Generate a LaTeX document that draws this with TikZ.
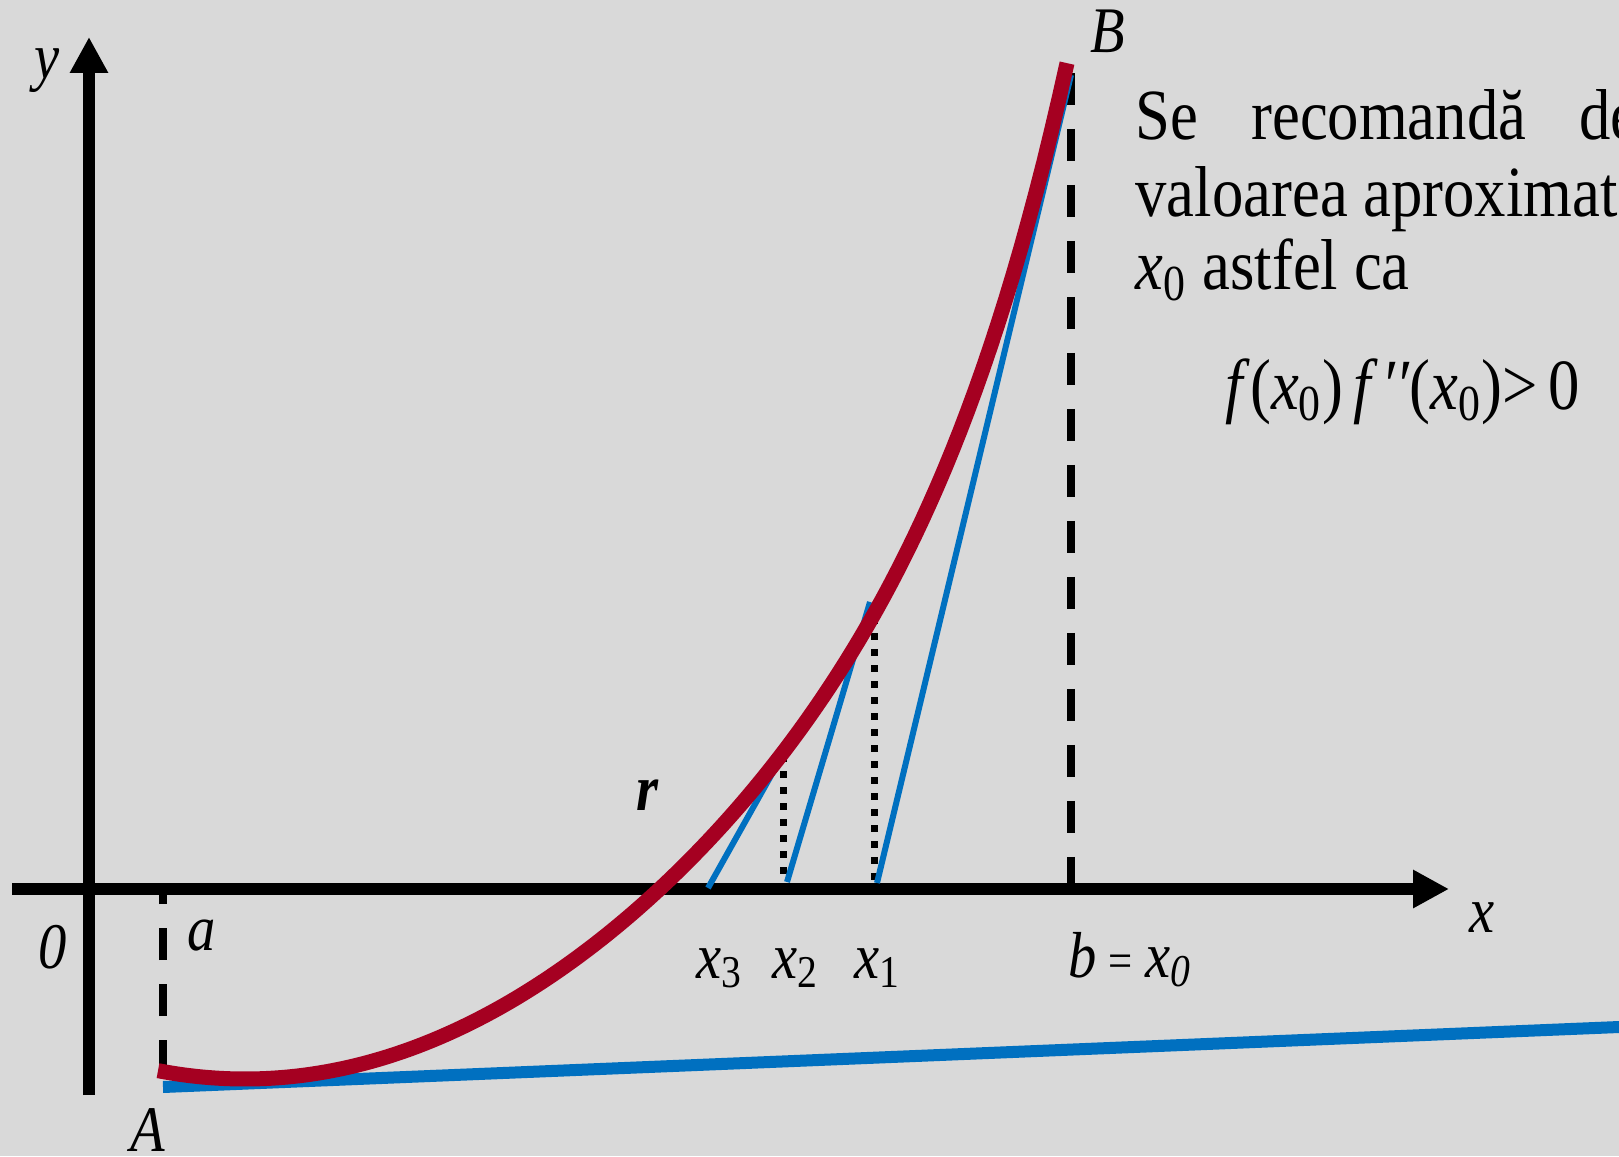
\documentclass[tikz,border=0pt]{standalone}
\usepackage{fontspec}
\setmainfont{Liberation Serif}
\usetikzlibrary{arrows.meta}
\usepackage{xcolor}
\definecolor{backdrop}{HTML}{D9D9D9}
\definecolor{curvered}{HTML}{A50021}
\definecolor{tanblue}{HTML}{0070C0}

\begin{document}
\begin{tikzpicture}[x=0.1mm,y=0.1mm,
  every node/.style={inner sep=0pt,xscale=0.87},
  lbl/.style={font=\fontsize{18.5}{20}\selectfont\itshape,anchor=base},
  txt/.style={font=\fontsize{20.5}{21.6}\selectfont,anchor=base west},
  axis/.style={line width=1.25mm,-{Triangle[length=3.6mm,width=3.6mm]}},
  guide/.style={line width=0.8mm,dash pattern=on 3.2mm off 2.4mm},
  dots/.style={line width=0.7mm,dash pattern=on 0.7mm off 0.9mm},
  tan/.style={tanblue,line width=0.6mm}]
\fill[backdrop] (0,0) rectangle (1619,1156);
\useasboundingbox (0,0) rectangle (1619,1156);
% points on the axes and on the curve
\coordinate (xbeg) at (12,267);
\coordinate (xend) at (1449,267);
\coordinate (ybeg) at (89,61);
\coordinate (yend) at (89,1119);
\coordinate (Aa) at (163,84);
\coordinate (a) at (163,267);
\coordinate (Bb) at (1071,1083);
\coordinate (b) at (1071,267);
\coordinate (Bt) at (1071,1081);
\coordinate (xone) at (877,273);
\coordinate (xtwo) at (787,274);
\coordinate (xthree) at (708,268);
\coordinate (Pone) at (870,554);
\coordinate (Ptwo) at (782,400);
\coordinate (Done) at (874,539);
\coordinate (Dtwo) at (783,401);
\coordinate (Ftop) at (874,273);
\coordinate (Ftwo) at (783,274);
\coordinate (far) at (1619,129);
\coordinate (Ab) at (163,69);
% axes
\draw[axis] (xbeg) -- (xend);
\draw[axis] (ybeg) -- (yend);
% a and b
\draw[guide] (Aa) -- (a);
\draw[guide] (Bb) -- (b);
\draw[dots] (Done) -- (Ftop);
\draw[dots] (Dtwo) -- (Ftwo);
% tangents
\draw[tan] (Bt) -- (xone);
\draw[tan] (Pone) -- (xtwo);
\draw[tan] (Ptwo) -- (xthree);
\draw[tan,line width=1.2mm] (Ab) -- (far);
% f, from A to B
\draw[curvered,line width=1.5mm] plot[domain=158:1067,samples=120]
  (\x,{77+11*((\x-245)/100)*((\x-245)/100)+273*(max(\x-245,1)/822)^8.3});
% labels
\node[lbl] (ylab) at (47,1077) {y};
\node[lbl] (Blab) at (1108,1103) {B};
\node[lbl] (xlab) at (1482,224) {x};
\node[lbl] (olab) at (53,188) {0};
\node[lbl] (alab) at (202,206) {a};
\node[lbl] (Alab) at (148,5) {A};
\node[lbl,font=\fontsize{18.5}{20}\selectfont\bfseries\itshape] (rlab) at (647,346) {r};
\foreach \n/\x in {1/878,2/796,3/720}{\node[lbl] (lx\n) at (\x,178) {x\textsubscript{\upshape\n}};}
\node[lbl] (blab) at (1130,179) {b\kern4pt{\upshape\fontsize{14}{15}\selectfont =}\kern4pt x\textsubscript{0}};
% note
\node[txt] (lineone) at (1135,1016) {Se\hspace{6.1mm}recomandă\hspace{6.1mm}de};
\node[txt] (linetwo) at (1135,939) {valoarea aproximat};
\node[txt] (linethree) at (1135,866) {\textit{x}\textsubscript{0} astfel ca};
\node[txt] (cond) at (1225,746) {\textit{f}(\textit{x}\textsubscript{0})\,\textit{f}\kern1pt\textit{′′}(\textit{x}\textsubscript{0})>\,0};
\end{tikzpicture}
\end{document}
